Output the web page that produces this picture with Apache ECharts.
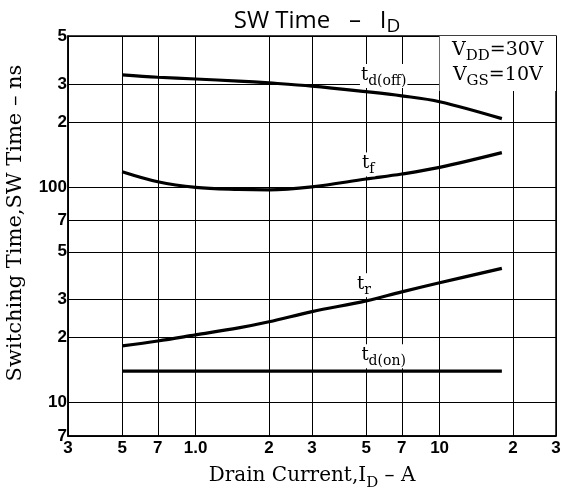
<!DOCTYPE html>
<html><head><meta charset="utf-8">
<script src="https://cdn.jsdelivr.net/npm/echarts@6/dist/echarts.min.js"></script>
<style>html,body{margin:0;padding:0;background:#fff}#c{width:563px;height:493px}</style>
</head><body><div id="c"></div>
<script>
// ---- data ----
const currents = [0.5, 0.7, 1.0, 1.5, 2, 3, 5, 7, 10, 18];
const tdOff = [330, 322, 316, 309, 303, 293, 276, 264, 248, 207];
const tf    = [117.5, 105.6, 99.5, 97.3, 96.8, 100, 108.7, 114.6, 123, 144];
const tr    = [18.3, 19.3, 20.6, 22.2, 23.7, 26.4, 29.6, 32.6, 35.9, 41.9];
const tdOn  = [14, 14, 14, 14, 14, 14, 14, 14, 14, 14];
const xTicks = [0.3, 0.5, 0.7, 1, 2, 3, 5, 7, 10, 20, 30];
const xTickLabels = ['3', '5', '7', '1.0', '2', '3', '5', '7', '10', '2', '3'];
const yTicks = [7, 10, 20, 30, 50, 70, 100, 200, 300, 500];
const yTickLabels = ['7', '10', '2', '3', '5', '7', '100', '2', '3', '5'];
const curveNames = ['td(off)', 'tf', 'tr', 'td(on)'];
const curveLabelText = ['{m|t}{s|d(off)}', '{m|t}{s|f}', '{m|t}{s|r}', '{m|t}{s|d(on)}'];
const curveLabelAt = [[5.9, 326], [5.1, 127], [4.9, 35], [5.9, 16.4]];
const condText = '{b|V}{c|DD}{b|=30V}\n{b|V}{c|GS}{b|=10V}';
const condBox = [[10, 278], [30, 500]];

const SERIF = '"DejaVu Serif", "Liberation Serif", serif';
const SANS = '"Liberation Sans", Arial, sans-serif';

function lookup(v, ticks, labels) {
  for (let i = 0; i < ticks.length; i++) {
    if (Math.abs(Math.log10(v) - Math.log10(ticks[i])) < 1e-4) return labels[i];
  }
  return '';
}
const richSub = {
  m: { fontFamily: SERIF, fontSize: 18, color: '#000', verticalAlign: 'bottom', lineHeight: 24, padding: [0, 0, 4, 0] },
  s: { fontFamily: SERIF, fontSize: 14, color: '#000', verticalAlign: 'bottom', lineHeight: 24 },
  b: { fontFamily: SERIF, fontSize: 19, color: '#000', verticalAlign: 'bottom', lineHeight: 25, padding: [0, 0, 4, 0] },
  c: { fontFamily: SERIF, fontSize: 15, color: '#000', verticalAlign: 'bottom', lineHeight: 25 },
  n: { fontFamily: SERIF, fontSize: 20, color: '#000', verticalAlign: 'bottom', lineHeight: 26, padding: [0, 0, 5, 0] },
  o: { fontFamily: SERIF, fontSize: 15, color: '#000', verticalAlign: 'bottom', lineHeight: 26 }
};
const seriesData = [tdOff, tf, tr, tdOn];

const chart = echarts.init(document.getElementById('c'), null, { renderer: 'canvas' });
const option = {
  animation: false,
  backgroundColor: '#fff',
  title: {
    text: 'SW Time   –   I{s|D}',
    left: 312, top: 2, textAlign: 'center',
    textStyle: {
      fontFamily: '"Open Sans", sans-serif', fontSize: 24, fontWeight: 'normal', color: '#000',
      rich: { s: { fontFamily: '"Open Sans", sans-serif', fontSize: 19, color: '#000', verticalAlign: 'bottom', padding: [10, 0, 0, 0] } }
    }
  },
  grid: { left: 68, right: 7, top: 36, bottom: 57, show: true, borderColor: '#000', borderWidth: 1.5, containLabel: false, outerBoundsMode: 'none' },
  xAxis: {
    type: 'log', logBase: 10, min: 0.3, max: 30,
    name: '{n|Drain Current,I}{o|D}{n| – A}', nameLocation: 'middle', nameGap: 29,
    nameTextStyle: { fontFamily: SERIF, fontSize: 20, color: '#000', rich: richSub },
    axisLine: { show: true, lineStyle: { color: '#000', width: 1.5 } },
    axisTick: { show: false, customValues: xTicks },
    axisLabel: { customValues: xTicks, formatter: v => lookup(v, xTicks, xTickLabels), fontFamily: SANS, fontWeight: 'bold', fontSize: 17, color: '#000', margin: 4 },
    splitLine: { show: true, lineStyle: { color: '#000', width: 1 } }
  },
  yAxis: {
    type: 'log', logBase: 10, min: 7, max: 500,
    name: 'Switching Time,SW Time – ns', nameLocation: 'middle', nameGap: 42,
    nameTextStyle: { fontFamily: SERIF, fontSize: 21, color: '#000', padding: [0, 0, 0, 26] },
    axisLine: { show: true, lineStyle: { color: '#000', width: 1.5 } },
    axisTick: { show: false, customValues: yTicks },
    axisLabel: { customValues: yTicks, formatter: v => lookup(v, yTicks, yTickLabels), fontFamily: SANS, fontWeight: 'bold', fontSize: 17, color: '#000', margin: 1 },
    splitLine: { show: true, lineStyle: { color: '#000', width: 1 } }
  },
  series: curveNames.map((name, k) => ({
    name: name, type: 'line', smooth: 0.35, symbol: 'none',
    lineStyle: { color: '#000', width: 3.2 },
    data: currents.map((x, i) => [x, seriesData[k][i]]),
    markPoint: {
      symbol: 'circle', symbolSize: 0, z: 5,
      label: { show: true, position: 'inside', formatter: curveLabelText[k], backgroundColor: '#fff', padding: [0, 1, 0, 1], rich: richSub },
      data: [{ coord: curveLabelAt[k] }]
    },
    markArea: k === 0 ? {
      silent: true,
      itemStyle: { color: '#fff', borderWidth: 0 },
      label: { show: true, position: 'inside', formatter: condText, rich: richSub },
      data: [[{ coord: condBox[0] }, { coord: condBox[1] }]]
    } : undefined
  }))
};
chart.setOption(option);
</script></body></html>
